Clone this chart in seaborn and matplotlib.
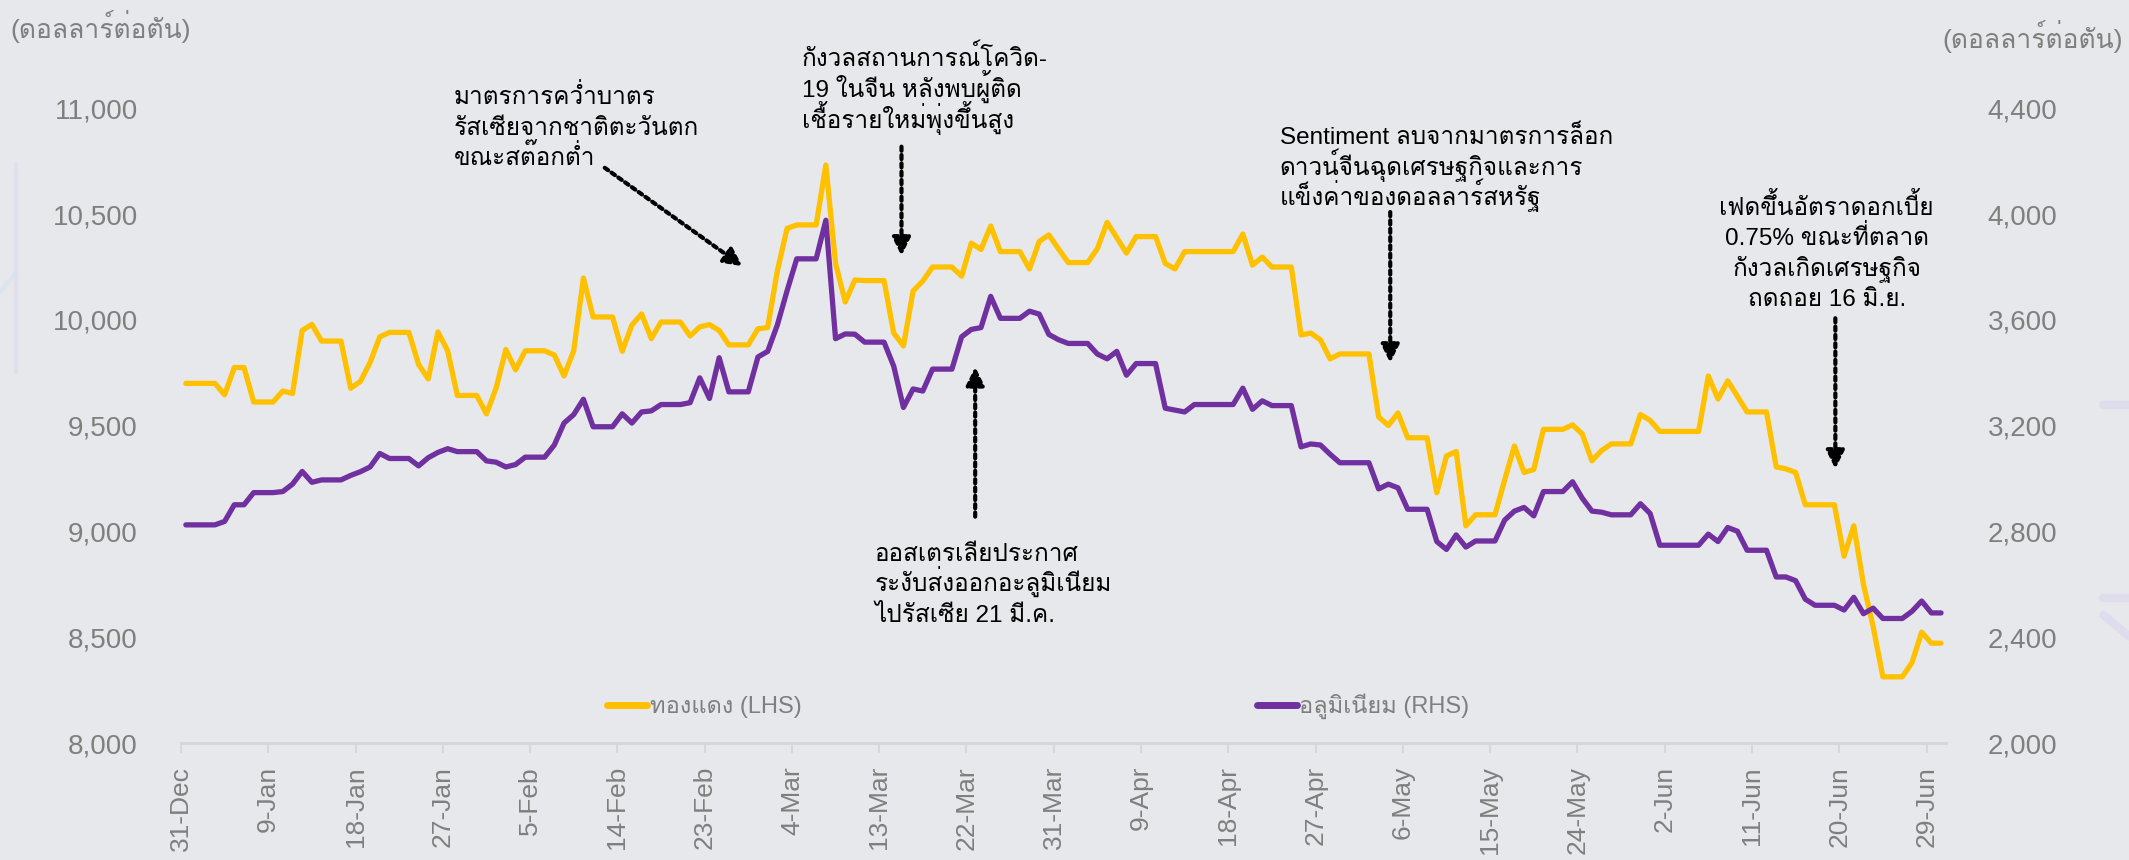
import matplotlib
matplotlib.use("Agg")
import matplotlib.pyplot as plt
from matplotlib import font_manager
from matplotlib.font_manager import FontProperties
from matplotlib.ft2font import FT2Font
from matplotlib.lines import Line2D
import pandas as pd
import seaborn as sns

# LME daily prices, 31-Dec-2021 .. 30-Jun-2022 (weekends / holidays carried forward)
copper = [
    9700, 9700, 9700, 9700, 9646, 9775, 9775,
    9612, 9612, 9612, 9664, 9652, 9950, 9979,
    9900, 9900, 9900, 9677, 9709, 9799, 9920,
    9941, 9941, 9941, 9790, 9721, 9943, 9854,
    9643, 9643, 9643, 9556, 9678, 9860, 9764,
    9854, 9854, 9854, 9834, 9735, 9854, 10198,
    10014, 10014, 10014, 9852, 9976, 10028, 9912,
    9990, 9990, 9990, 9924, 9967, 9978, 9950,
    9882, 9882, 9882, 9958, 9964, 10232, 10432,
    10449, 10449, 10449, 10732, 10267, 10085, 10189,
    10186, 10186, 10186, 9938, 9877, 10137, 10184,
    10250, 10250, 10250, 10207, 10363, 10333, 10444,
    10323, 10323, 10323, 10241, 10371, 10402, 10335,
    10271, 10271, 10271, 10337, 10461, 10389, 10316,
    10394, 10394, 10394, 10267, 10241, 10323, 10323,
    10323, 10323, 10323, 10323, 10406, 10259, 10297,
    10250, 10250, 10250, 9929, 9938, 9906, 9816,
    9839, 9839, 9839, 9839, 9542, 9501, 9560,
    9443, 9443, 9443, 9183, 9357, 9378, 9027,
    9079, 9079, 9079, 9244, 9404, 9279, 9293,
    9483, 9483, 9483, 9504, 9461, 9334, 9383,
    9414, 9414, 9414, 9553, 9525, 9473, 9473,
    9473, 9473, 9473, 9735, 9626, 9712, 9639,
    9565, 9565, 9565, 9305, 9296, 9279, 9126,
    9126, 9126, 9126, 8883, 9027, 8750, 8550,
    8313, 8313, 8313, 8380, 8524, 8472, 8472,
]
aluminium = [
    2825, 2825, 2825, 2825, 2838, 2901, 2901,
    2947, 2947, 2947, 2951, 2979, 3027, 2986,
    2995, 2995, 2995, 3012, 3026, 3044, 3095,
    3076, 3076, 3076, 3048, 3079, 3099, 3113,
    3102, 3102, 3102, 3067, 3062, 3044, 3053,
    3081, 3081, 3081, 3127, 3210, 3242, 3300,
    3196, 3196, 3196, 3245, 3210, 3252, 3256,
    3280, 3280, 3280, 3287, 3381, 3303, 3457,
    3328, 3328, 3328, 3460, 3481, 3581, 3710,
    3831, 3831, 3831, 3977, 3529, 3547, 3546,
    3516, 3516, 3516, 3425, 3269, 3339, 3331,
    3414, 3414, 3414, 3536, 3564, 3571, 3689,
    3606, 3606, 3606, 3633, 3622, 3545, 3525,
    3511, 3511, 3511, 3471, 3453, 3481, 3391,
    3435, 3435, 3435, 3266, 3259, 3252, 3280,
    3280, 3280, 3280, 3280, 3342, 3262, 3294,
    3276, 3276, 3276, 3120, 3131, 3127, 3092,
    3060, 3060, 3060, 3060, 2961, 2979, 2965,
    2884, 2884, 2884, 2762, 2732, 2787, 2741,
    2764, 2764, 2764, 2843, 2877, 2891, 2859,
    2951, 2951, 2951, 2988, 2926, 2877, 2873,
    2863, 2863, 2863, 2905, 2868, 2748, 2748,
    2748, 2748, 2748, 2790, 2762, 2815, 2801,
    2729, 2729, 2729, 2628, 2628, 2614, 2544,
    2521, 2521, 2521, 2503, 2551, 2489, 2510,
    2471, 2471, 2471, 2498, 2537, 2492, 2492,
]
left_ticks = [8000, 8500, 9000, 9500, 10000, 10500, 11000]
right_ticks = [2000, 2400, 2800, 3200, 3600, 4000, 4400]
start = pd.Timestamp("2021-12-31")
dates = pd.date_range(start, periods=len(copper), freq="D")
tick_dates = pd.date_range(start, "2022-06-29", freq="9D")

unit_label = "(ดอลลาร์ต่อตัน)"
copper_label = "ทองแดง (LHS)"
alu_label = "อลูมิเนียม (RHS)"

# (lines, day and value of the first line, ha, arrow tail day/value, arrow head day/value)
notes = [
    (["มาตรการคว่ำบาตร", "รัสเซียจากชาติตะวันตก", "ขณะสต๊อกต่ำ"], 28.1, 11055, "left",
     (43.7, 10719), (57.9, 10254)),
    (["กังวลสถานการณ์โควิด-", "19 ในจีน หลังพบผู้ติด", "เชื้อรายใหม่พุ่งขึ้นสูง"], 64.0, 11234, "left",
     (74.3, 10819), (74.3, 10303)),
    (["Sentiment ลบจากมาตรการล็อก", "ดาวน์จีนฉุดเศรษฐกิจและการ", "แข็งค่าของดอลลาร์สหรัฐ"],
     113.3, 10866, "left", (124.7, 10510), (124.7, 9797)),
    (["เฟดขึ้นอัตราดอกเบี้ย", "0.75% ขณะที่ตลาด", "กังวลเกิดเศรษฐกิจ", "ถดถอย 16 มิ.ย."],
     169.7, 10533, "center", (170.6, 10008), (170.6, 9296)),
    (["ออสเตรเลียประกาศ", "ระงับส่งออกอะลูมิเนียม", "ไปรัสเซีย 21 มี.ค."], 71.5, 8898, "left",
     (81.9, 9070), (81.9, 9778)),
]


def tone_marks_sit_high(name):
    # without text shaping a tone mark after an upper vowel is drawn at its
    # default height; keep fonts whose default sits above the vowel
    try:
        ft = FT2Font(font_manager.findfont(FontProperties(family=name),
                                           fallback_to_default=False))
        ft.set_size(100, 72)
        tone = ft.load_char(0x0E49).bbox
        vowel = ft.load_char(0x0E35).bbox
    except Exception:
        return False
    return tone[1] >= vowel[3] - 0.1 * (vowel[3] - vowel[1])


installed = {f.name for f in font_manager.fontManager.ttflist}
prefs = ["IBM Plex Sans Thai Looped", "Noto Sans Thai Looped", "Sarabun", "Loma",
         "Anuphan", "Bai Jamjuree", "IBM Plex Sans Thai", "Noto Sans Thai", "Kanit",
         "Prompt", "Krub", "K2D", "Niramit", "Chakra Petch", "Athiti", "Thasadith"]
prefs = [n for n in prefs if n in installed]
thai = next((n for n in prefs if tone_marks_sit_high(n)), prefs[0] if prefs else "DejaVu Sans")

bg = "#E7E8EB"
grey = "#7F7F7F"
sns.set_theme(style="white", rc={"axes.facecolor": bg, "figure.facecolor": bg})
plt.rcParams["font.family"] = ["Liberation Sans", thai, "DejaVu Sans"]

df = pd.DataFrame({
    "date": dates + pd.Timedelta(hours=12),
    "copper": copper,
    "aluminium": aluminium,
})

fig = plt.figure(figsize=(21.29, 8.6), dpi=100)

# faint decorative strokes at the edges of the slide
deco = dict(transform=fig.transFigure, lw=3, alpha=0.6, solid_capstyle="butt")
fig.add_artist(Line2D([0.0075, 0.0075], [0.565, 0.81], color="#DCDCF0", **deco))
fig.add_artist(Line2D([0.0, 0.008], [0.66, 0.685], color="#D2E2F2", **deco))
fig.add_artist(Line2D([0.988, 1.0], [0.529, 0.529], color="#DCD8F0", lw=6, alpha=0.7,
                      transform=fig.transFigure))
fig.add_artist(Line2D([0.988, 1.0], [0.305, 0.305], color="#DCD8F0", lw=6, alpha=0.7,
                      transform=fig.transFigure))
fig.add_artist(Line2D([0.988, 1.0], [0.285, 0.26], color="#DCD8F0", lw=6, alpha=0.7,
                      transform=fig.transFigure))

ax = fig.add_axes([0.085, 0.136, 0.829, 0.738])
sns.lineplot(data=df, x="date", y="copper", color="#FFC000", lw=3.8, ax=ax)
ax2 = ax.twinx()
sns.lineplot(data=df, x="date", y="aluminium", color="#7030A0", lw=3.8, ax=ax2)

ax.set_xlim(start, pd.Timestamp("2022-07-01"))
ax.set_ylim(8000, 11000)
ax2.set_ylim(2000, 4400)
ax.set_yticks(left_ticks)
ax.set_yticklabels([f"{v:,}" for v in left_ticks])
ax2.set_yticks(right_ticks)
ax2.set_yticklabels([f"{v:,}" for v in right_ticks])
ax.set_xticks(tick_dates)
ax.set_xticklabels([f"{d.day}-{d.strftime('%b')}" for d in tick_dates], rotation=90)
for a in (ax, ax2):
    a.set_xlabel("")
    a.set_ylabel("")
    for s in a.spines.values():
        s.set_visible(False)
ax.spines["bottom"].set_visible(True)
ax.spines["bottom"].set_color("#D6D6D8")
ax.spines["bottom"].set_linewidth(2)
ax.tick_params(axis="x", length=7.5, width=1.3, color="#D6D6D8", pad=9,
               labelsize=19, labelcolor=grey, bottom=True)
ax.tick_params(axis="y", length=0, pad=31, labelsize=20, labelcolor=grey)
ax2.tick_params(axis="y", length=0, pad=30, labelsize=20, labelcolor=grey)

fig.text(0.005, 0.969, unit_label, fontsize=19, color=grey, va="center", ha="left")
fig.text(0.997, 0.957, unit_label, fontsize=19, color=grey, va="center", ha="right")

# each note line is its own text so the line pitch stays even
for lines, tx, ty, ha, tail, head in notes:
    for i, line in enumerate(lines):
        ax.annotate(line, xy=(start + pd.Timedelta(days=tx), ty),
                    xytext=(0, -5.5 - 22 * i), textcoords="offset points",
                    fontsize=17.5, color="black", ha=ha, va="baseline",
                    annotation_clip=False)
    ax.annotate("", xy=(start + pd.Timedelta(days=head[0]), head[1]),
                xytext=(start + pd.Timedelta(days=tail[0]), tail[1]),
                arrowprops=dict(arrowstyle="-|>,head_length=0.9,head_width=0.45",
                                color="black", lw=3, linestyle=(0, (1, 1)),
                                shrinkA=0, shrinkB=0), annotation_clip=False)

handles = [Line2D([], [], color="#FFC000", lw=5), Line2D([], [], color="#7030A0", lw=5)]
leg = ax.legend(handles, [copper_label, alu_label], loc="center left",
                bbox_to_anchor=(0.2414, 0.058), ncol=2, frameon=False, fontsize=17,
                handlelength=1.7, handletextpad=0.1, columnspacing=19.3,
                borderpad=0, borderaxespad=0)
for t in leg.get_texts():
    t.set_color(grey)

fig.savefig("out.png", dpi=100, facecolor=bg)
